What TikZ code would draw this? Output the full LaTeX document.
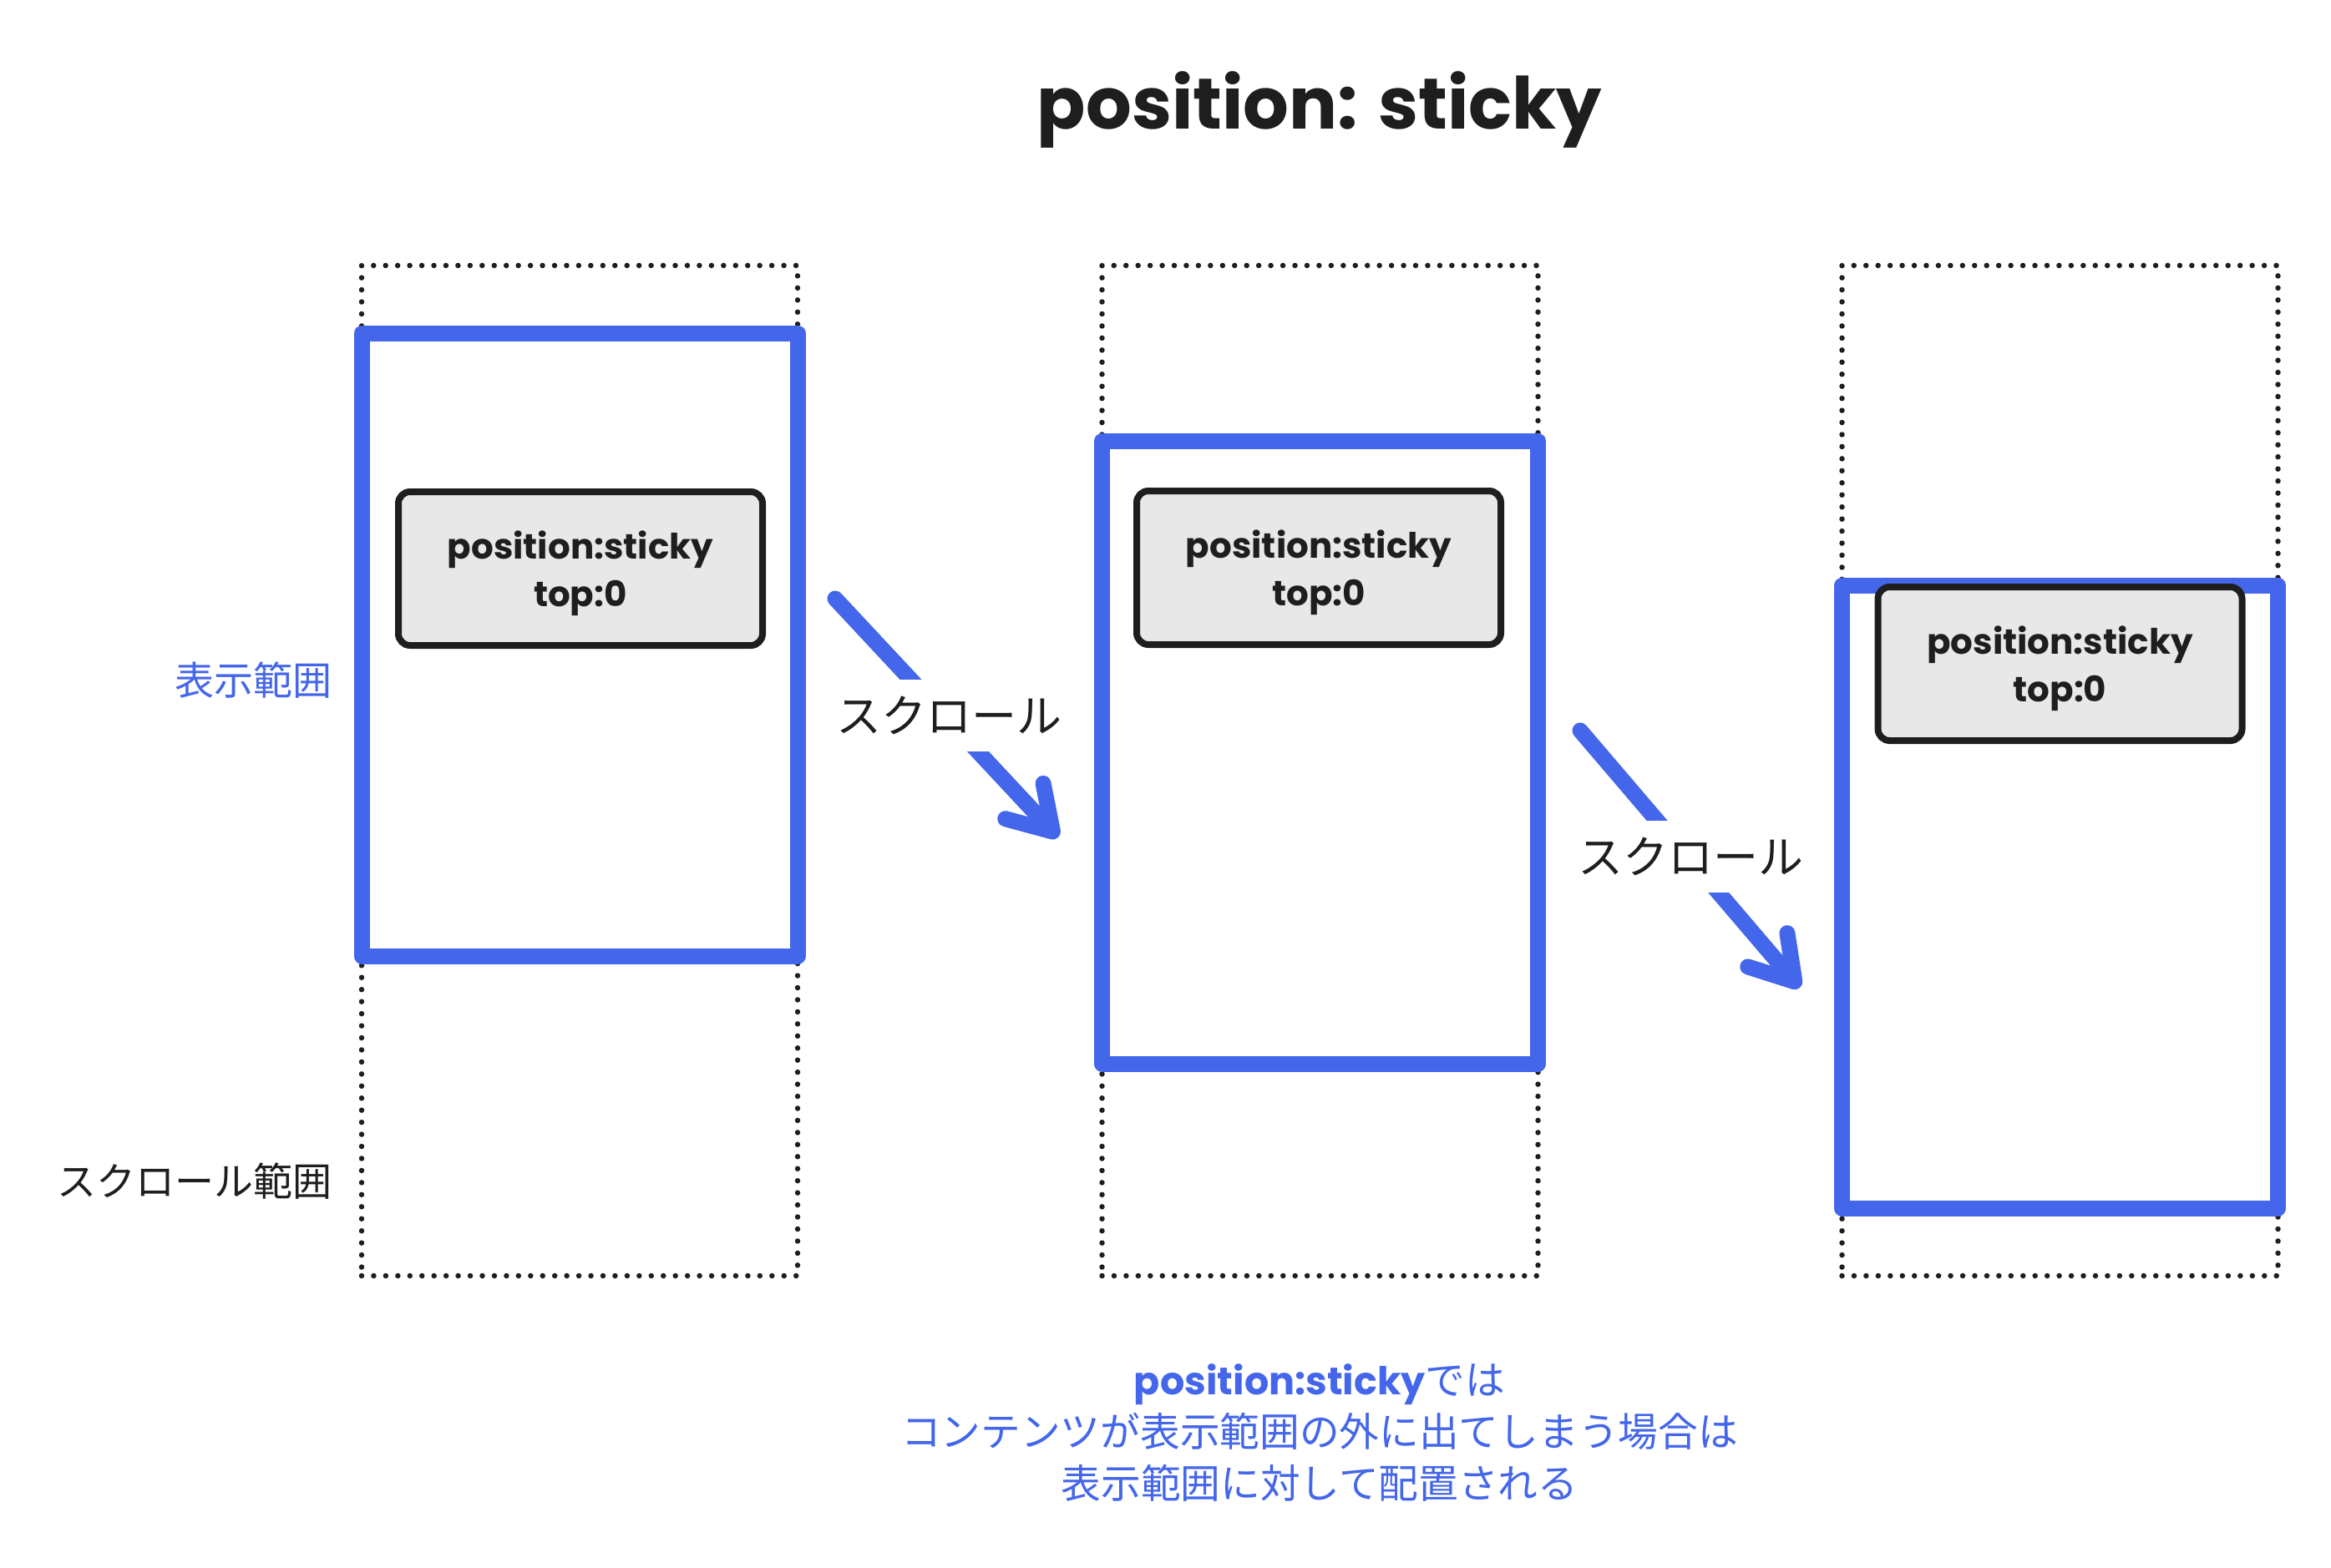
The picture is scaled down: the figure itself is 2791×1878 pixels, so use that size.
\documentclass[tikz,border=0pt]{standalone}
\usepackage{fontspec}
\setmainfont{Poppins}
\newfontfamily\handfont{Poppins}
\newfontfamily\jpfont{Noto Sans CJK JP}
\usetikzlibrary{arrows.meta}
\definecolor{vblue}{HTML}{4466EA}
\definecolor{ink}{HTML}{1E1E1E}
\definecolor{boxgray}{HTML}{E8E8E8}
\newcommand{\stickytext}{\raisebox{12pt}[0pt][0pt]{\begin{tabular}[t]{@{}c@{}}position:sticky\\top:0\end{tabular}}}
\begin{document}
\begin{tikzpicture}[x=1pt,y=-1pt,
  scrollrange/.style={draw=ink, line width=6.5pt, line cap=round, dash pattern=on 0pt off 14.45pt, minimum width=522pt, minimum height=1210pt, inner sep=0pt, outer sep=0pt},
  viewport/.style={draw=vblue, line width=19pt, line join=round, minimum width=522pt, minimum height=746pt, inner sep=0pt, outer sep=0pt},
  stickybox/.style={draw=ink, fill=boxgray, line width=8pt, rounded corners=14pt, minimum width=436pt, minimum height=184pt, inner sep=0pt, font=\handfont\bfseries\fontsize{42}{57}\selectfont, text=ink},
  scrollarrow/.style={draw=vblue, line width=19pt, line cap=round, -{Straight Barb[length=50pt, width=62pt, round]}},
  scrolllabel/.style={fill=white, inner xsep=4pt, inner ysep=20pt, font=\jpfont\fontsize{54}{60}\selectfont, text=ink},
  sidelabel/.style={anchor=east, inner sep=0pt, font=\jpfont\fontsize{47}{56}\selectfont}
]
\path[use as bounding box, fill=white] (0,0) rectangle (2791,1878);

% title
\node[font=\handfont\bfseries\fontsize{86}{100}\selectfont, text=ink, inner sep=0pt] (title) at (1580,131) {position: sticky};

% scroll ranges (dotted)
\node[scrollrange] (range1) at (694,923) {};
\node[scrollrange] (range2) at (1580.5,923) {};
\node[scrollrange] (range3) at (2466.5,923) {};

% viewports (blue)
\node[viewport] (view1) at (694,772) {};
\node[viewport] (view2) at (1580.5,901) {};
\node[viewport] (view3) at (2466.5,1074) {};

% sticky boxes
\node[stickybox] (box1) at (695,681) {\stickytext};
\node[stickybox] (box2) at (1579,680) {\stickytext};
\node[stickybox] (box3) at (2466.5,795) {\stickytext};

% side labels
\node[sidelabel, text=vblue] (lview) at (398,815) {表示範囲};
\node[sidelabel, text=ink] (lrange) at (398,1415) {スクロール範囲};

% arrows
\coordinate (a1s) at (1000,717);
\coordinate (a1e) at (1267,1003);
\coordinate (a2s) at (1892,875);
\coordinate (a2e) at (2155,1183);
\draw[scrollarrow] (a1s) -- (a1e);
\draw[scrollarrow] (a2s) -- (a2e);
\node[scrolllabel] (s1) at (1136,857) {スクロール};
\node[scrolllabel] (s2) at (2024,1026) {スクロール};

% note
\node[align=center, text=vblue, inner sep=0pt, font=\jpfont\fontsize{47.7}{62}\selectfont] (note) at (1580,1716)
  {{\handfont\bfseries\fontsize{46}{62}\selectfont position:sticky}では\\コンテンツが表示範囲の外に出てしまう場合は\\表示範囲に対して配置される};
\end{tikzpicture}
\end{document}
